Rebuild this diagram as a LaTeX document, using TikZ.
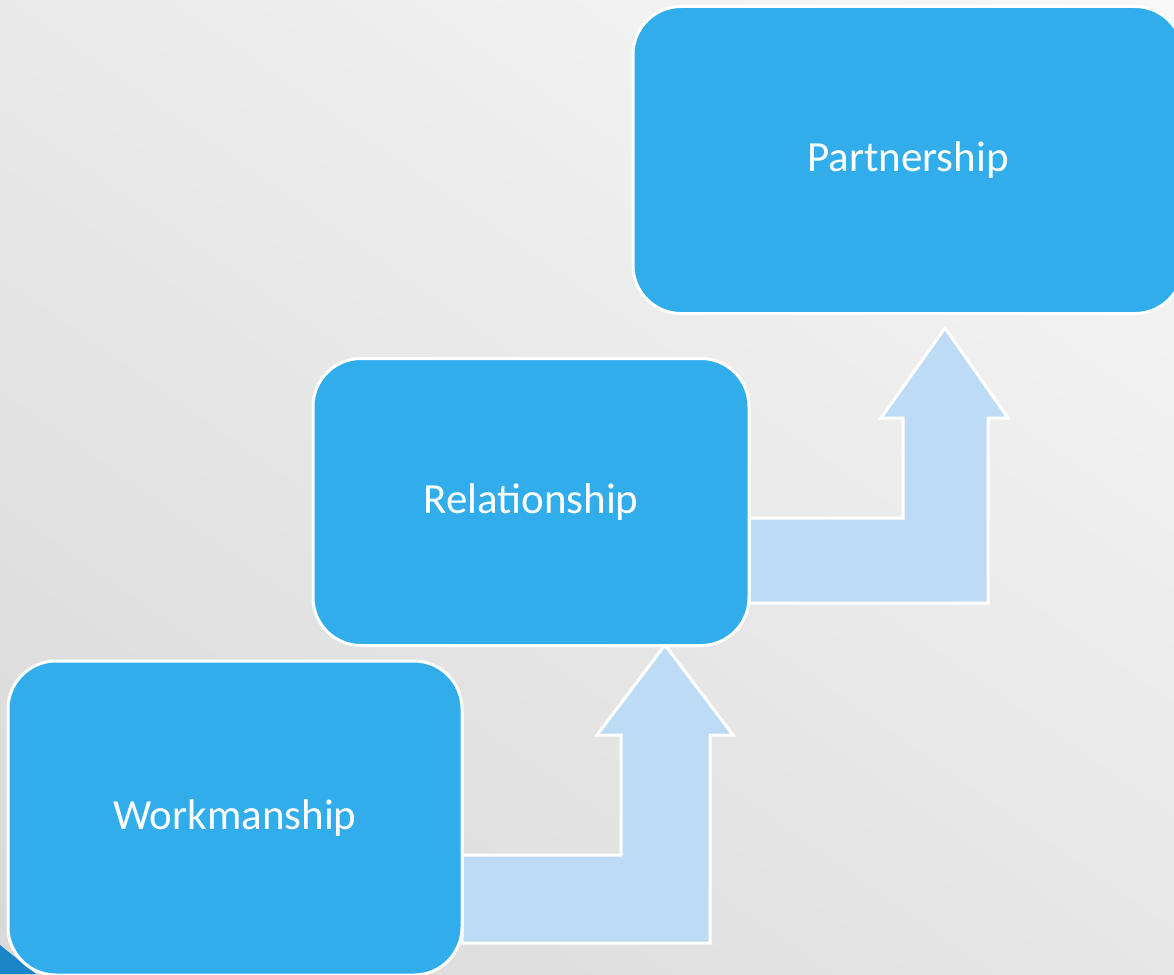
\documentclass[tikz,border=0pt]{standalone}
\usepackage{fontspec}
\setmainfont{Carlito}
\begin{document}
\begin{tikzpicture}[x=1pt,y=-1pt,
  stagebox/.style={draw=white, line width=3pt, fill=boxblue, rounded corners=48pt,
    text=white, font=\fontsize{43}{48}\selectfont, inner sep=0pt, anchor=center},
  bentarrow/.style={draw=white, line width=3pt, fill=arrowblue, line join=miter}]
\definecolor{boxblue}{HTML}{32ADEC}
\definecolor{arrowblue}{HTML}{BDDBF4}
\definecolor{cornerblue}{HTML}{1A86C8}
\useasboundingbox (0,0) rectangle (1174,974);
\clip (0,0) rectangle (1174,974);
\shade[shading=axis, top color=white!98!black, bottom color=white!84!black, shading angle=-35] (-300,-300) rectangle (1474,1274);
\fill[cornerblue] (0,945) -- (36,974) -- (0,974) -- cycle;
% arrows
\draw[bentarrow] (462,855) -- (621,855) -- (621,735) -- (597,735) -- (665,645) -- (733,735) -- (710,735) -- (710,943) -- (462,943) -- cycle;
\draw[bentarrow] (749,518) -- (903,518) -- (903,418) -- (881,418) -- (945,328) -- (1008,418) -- (988,418) -- (988,603) -- (749,603) -- cycle;
% boxes
\node[stagebox, minimum width=454pt, minimum height=314pt] (work) at (235,818) {Workmanship};
\node[stagebox, minimum width=436pt, minimum height=287pt] (rel) at (531,502) {Relationship};
\node[stagebox, minimum width=550pt, minimum height=307pt] (part) at (908,160) {Partnership};
\end{tikzpicture}
\end{document}
